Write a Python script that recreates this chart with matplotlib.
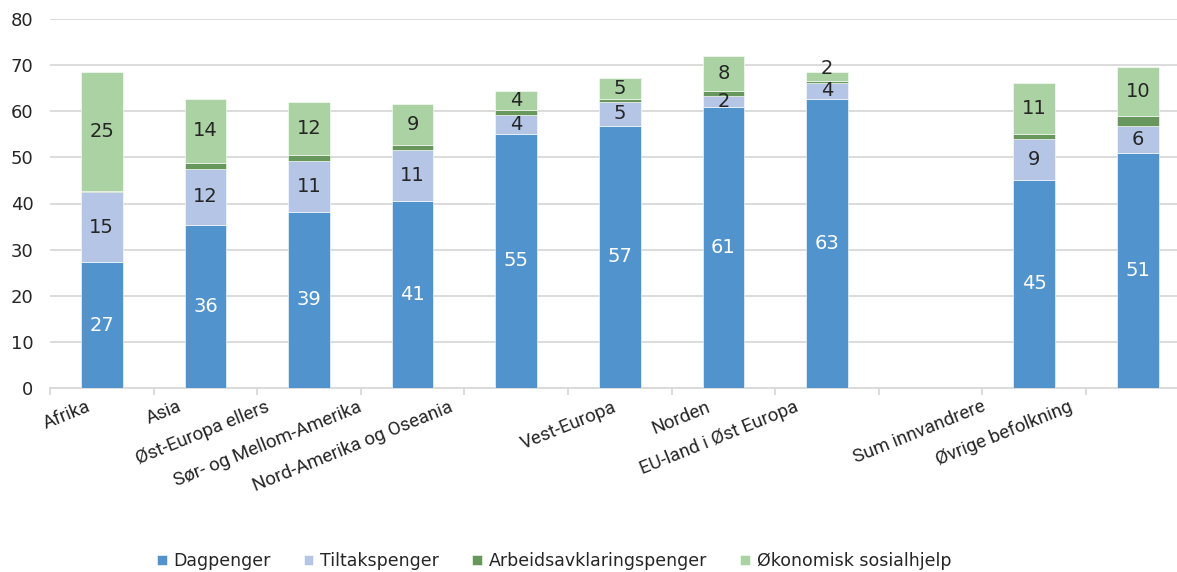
import matplotlib
matplotlib.use('Agg')
import matplotlib.pyplot as plt
import matplotlib.transforms as mtransforms
import numpy as np

categories = ['Afrika', 'Asia', 'Øst-Europa ellers', 'Sør- og Mellom-Amerika',
              'Nord-Amerika og Oseania', 'Vest-Europa', 'Norden', 'EU-land i Øst Europa',
              '', 'Sum innvandrere', 'Øvrige befolkning']

# bar heights (the gap slot is empty)
dagpenger = [27.2, 35.3, 38.2, 40.6, 55.1, 56.8, 60.9, 62.7, 0, 45.2, 51.0]
tiltakspenger = [15.2, 12.3, 11.1, 11.1, 4.1, 5.3, 2.4, 3.5, 0, 8.8, 5.9]
arbeidsavklaring = [0.4, 1.1, 1.2, 1.1, 1.0, 0.5, 1.1, 0.5, 0, 1.0, 2.2]
sosialhjelp = [25.8, 14.1, 11.6, 8.7, 4.2, 4.7, 7.6, 1.8, 0, 11.1, 10.5]

# printed data labels
dagpenger_labels = ['27', '36', '39', '41', '55', '57', '61', '63', '', '45', '51']
tiltak_labels = ['15', '12', '11', '11', '4', '5', '2', '4', '', '9', '6']
sosialhjelp_labels = ['25', '14', '12', '9', '4', '5', '8', '2', '', '11', '10']

series_names = ['Dagpenger', 'Tiltakspenger', 'Arbeidsavklaringspenger', 'Økonomisk sosialhjelp']
colors = ['#5193cd', '#b4c5e6', '#67975d', '#abd2a2']
text_dark = '#262626'

# horizontal shift (px) of each rotated category label from its slot centre
label_shift = [15, 28, 44, 55, 68, 7, 17, 33, 0, 53, 70]

W, H = 1177, 572
fig = plt.figure(figsize=(W / 100, H / 100), dpi=100)
slot = 103.6
ax = fig.add_axes([50 / W, (H - 387.7) / H, len(categories) * slot / W, (387.7 - 19.3) / H])

x = np.arange(len(categories))
width = 0.4
bottom = np.zeros(len(categories))
stack = [dagpenger, tiltakspenger, arbeidsavklaring, sosialhjelp]
handles = []
for vals, col, name in zip(stack, colors, series_names):
    vals = np.array(vals)
    b = ax.bar(x, vals, width, bottom=bottom, color=col, edgecolor='white',
               linewidth=0.4, zorder=3, label=name)
    handles.append(b)
    bottom = bottom + vals

# data labels
base = np.zeros(len(categories))
for vals, labels, col in [(dagpenger, dagpenger_labels, 'white'),
                          (tiltakspenger, tiltak_labels, text_dark),
                          (arbeidsavklaring, None, None),
                          (sosialhjelp, sosialhjelp_labels, text_dark)]:
    vals = np.array(vals)
    if labels is not None:
        for i, (v, lab) in enumerate(zip(vals, labels)):
            if not lab:
                continue
            if v < 2:
                ax.annotate(lab, (x[i], base[i] + v), xytext=(0, 3), textcoords='offset points',
                            ha='center', va='center', fontsize=14, color=col, zorder=4)
            else:
                ax.text(x[i], base[i] + v / 2, lab, ha='center', va='center',
                        fontsize=14, color=col, zorder=4)
    base = base + vals

ax.set_xlim(-0.5, len(categories) - 0.5)
ax.set_ylim(0, 80)
ax.set_yticks(range(0, 81, 10))
ax.yaxis.grid(True, color='#d9d9d9', linewidth=1.3, zorder=0)
ax.set_axisbelow(True)
for s in ['left', 'right', 'top']:
    ax.spines[s].set_visible(False)
ax.spines['bottom'].set_color('#d9d9d9')
ax.spines['bottom'].set_linewidth(1.3)
ax.tick_params(axis='y', length=0, pad=12, labelsize=13, labelcolor=text_dark)

ax.set_xticks(x)
ax.set_xticklabels([])
ax.tick_params(axis='x', which='major', length=0)
ax.set_xticks(np.arange(-0.5, len(categories), 1), minor=True)
ax.tick_params(axis='x', which='minor', length=5, width=1.3, color='#d9d9d9')

for i, cat in enumerate(categories):
    if not cat:
        continue
    off = mtransforms.ScaledTranslation(-label_shift[i] / 100, -10 / 100, fig.dpi_scale_trans)
    ax.text(x[i], 0, cat, rotation=22, rotation_mode='anchor', ha='right', va='top',
            fontsize=13.5, color=text_dark, family=['Roboto', 'DejaVu Sans'],
            transform=ax.get_xaxis_transform() + off)

fig.legend(handles, series_names, loc='center', bbox_to_anchor=(554 / W, 11 / H),
           ncol=4, frameon=False, fontsize=12.5, handlelength=0.55, handleheight=0.55,
           handletextpad=0.4, columnspacing=1.9, labelcolor=text_dark)

fig.savefig('out.png', dpi=100)
